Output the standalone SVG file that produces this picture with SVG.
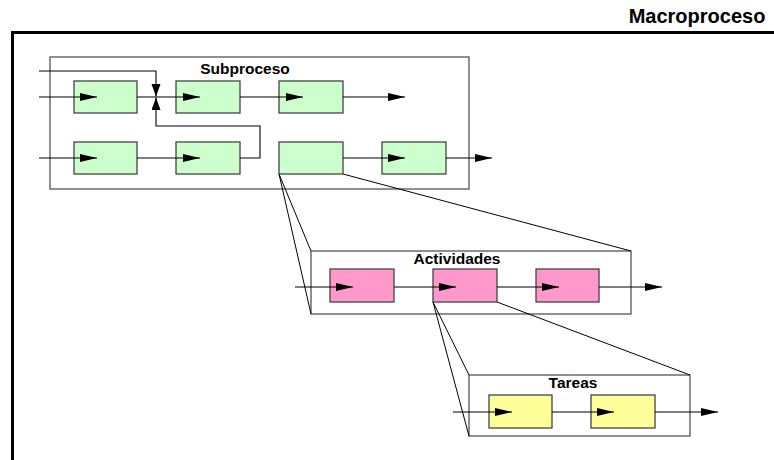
<svg xmlns="http://www.w3.org/2000/svg" width="774" height="460" viewBox="0 0 774 460">
<defs>
<style>
.lbl{font-family:"Liberation Sans",Arial,sans-serif;font-weight:bold;fill:#000;text-anchor:middle}
.cont{fill:#fff;stroke:#555;stroke-width:1.3}
.g{fill:#ccffcc;stroke:#444;stroke-width:1.3}
.p{fill:#ff99cc;stroke:#444;stroke-width:1.3}
.y{fill:#ffff99;stroke:#444;stroke-width:1.3}
.c{fill:none;stroke:#000;stroke-width:1.1}
.proj{fill:none;stroke:#000;stroke-width:1}
</style>
<marker id="ah" markerUnits="userSpaceOnUse" markerWidth="18" markerHeight="10" refX="17" refY="4" orient="auto">
<path d="M0,0 L17,4 L0,8 Z" fill="#000"/>
</marker>
<marker id="av" markerUnits="userSpaceOnUse" markerWidth="14" markerHeight="10" refX="12.5" refY="4.5" orient="auto">
<path d="M0,0 L12.5,4.5 L0,9 Z" fill="#000"/>
</marker>
</defs>
<rect width="774" height="460" fill="#fff"/>
<g id="macroproceso">
<path d="M12.5,460 V32.5 H774" fill="none" stroke="#000" stroke-width="3"/>
<text class="lbl" x="697" y="23" font-size="20">Macroproceso</text>
</g>
<g id="subproceso">
<rect class="cont" x="50" y="57" width="419" height="132"/>
<text class="lbl" x="245" y="74" font-size="15.5">Subproceso</text>
</g>
<g id="actividades">
<rect class="cont" x="311" y="251" width="320" height="63"/>
<text class="lbl" x="457" y="264" font-size="15.5">Actividades</text>
</g>
<g id="tareas">
<rect class="cont" x="469" y="375" width="221" height="61"/>
<text class="lbl" x="573" y="388" font-size="15.5">Tareas</text>
</g>
<g id="projections">
<path class="proj" d="M279,174 L311,251 M279,174 L311,314 M343,174 L631,251"/>
<path class="proj" d="M433,302 L469,375 M433,302 L469,436 M497,302 L690,375"/>
</g>
<g id="s1"><rect class="g" x="74" y="81" width="63" height="32"/></g>
<g id="s2"><rect class="g" x="176" y="81" width="64" height="32"/></g>
<g id="s3"><rect class="g" x="279" y="81" width="64" height="32"/></g>
<g id="s4"><rect class="g" x="74" y="142" width="63" height="32"/></g>
<g id="s5"><rect class="g" x="176" y="142" width="64" height="32"/></g>
<g id="s6"><rect class="g" x="279" y="142" width="64" height="32"/></g>
<g id="s7"><rect class="g" x="382" y="142" width="64" height="32"/></g>
<g id="a1"><rect class="p" x="330" y="269" width="64" height="33"/></g>
<g id="a2"><rect class="p" x="433" y="269" width="64" height="33"/></g>
<g id="a3"><rect class="p" x="536" y="269" width="63" height="33"/></g>
<g id="t1"><rect class="y" x="489" y="395" width="63" height="33"/></g>
<g id="t2"><rect class="y" x="591" y="395" width="64" height="33"/></g>
<g id="connectors">
<path class="c" d="M39,97 H97" marker-end="url(#ah)"/>
<path class="c" d="M137,97 H200" marker-end="url(#ah)"/>
<path class="c" d="M240,97 H303" marker-end="url(#ah)"/>
<path class="c" d="M343,97 H405" marker-end="url(#ah)"/>
<path class="c" d="M39,71 H156 V96.5" marker-end="url(#av)"/>
<path class="c" d="M240,158 H260 V126 H156 V97.5" marker-end="url(#av)"/>
<path class="c" d="M39,158 H97" marker-end="url(#ah)"/>
<path class="c" d="M137,158 H200" marker-end="url(#ah)"/>
<path class="c" d="M343,158 H405" marker-end="url(#ah)"/>
<path class="c" d="M446,158 H492" marker-end="url(#ah)"/>
<path class="c" d="M295,287 H353" marker-end="url(#ah)"/>
<path class="c" d="M394,287 H456" marker-end="url(#ah)"/>
<path class="c" d="M497,287 H559" marker-end="url(#ah)"/>
<path class="c" d="M599,287 H662" marker-end="url(#ah)"/>
<path class="c" d="M453,412 H512" marker-end="url(#ah)"/>
<path class="c" d="M552,412 H614" marker-end="url(#ah)"/>
<path class="c" d="M655,412 H718" marker-end="url(#ah)"/>
</g>
</svg>
